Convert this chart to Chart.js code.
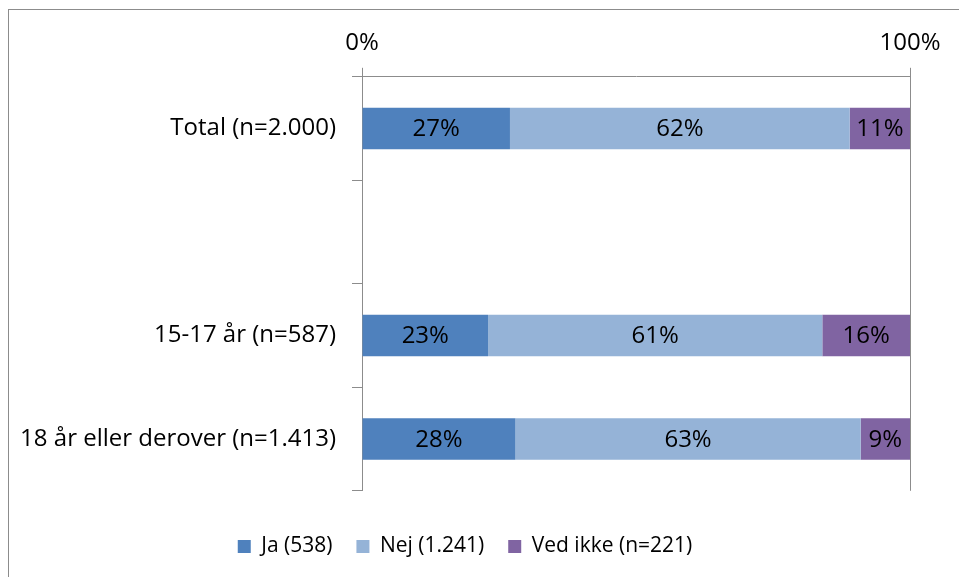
<!DOCTYPE html>
<html>
<head>
<meta charset="utf-8">
<script src="https://cdn.jsdelivr.net/npm/chart.js@4"></script>
<style>
  html, body { margin: 0; padding: 0; background: #fff; overflow: hidden; }
  #frame {
    position: absolute; left: 8px; top: 9px; width: 1000px; height: 620px;
    border: 1px solid #8c8c8c; box-sizing: border-box;
  }
  #wrap { position: absolute; left: 0; top: 0; width: 959px; height: 577px; }
</style>
</head>
<body>
<div id="frame"></div>
<div id="wrap"><canvas id="chart" width="959" height="577"></canvas></div>
<script>
document.addEventListener("DOMContentLoaded", function () {
  // categories (the blank one is the empty gap between Total and the age groups)
  const categories = ["Total (n=2.000)", "", "15-17 år (n=587)", "18 år eller derover (n=1.413)"];
  const seriesNames = ["Ja (538)", "Nej (1.241)", "Ved ikke (n=221)"];
  const jaValues = [27, null, 23, 28];
  const nejValues = [62, null, 61, 63];
  const vedIkkeValues = [11, null, 16, 9];
  const xTicks = [0, 100];

  const colors = ["#4f81bd", "#95b3d7", "#8064a2"];
  const axisGray = "#8c8c8c";
  const FONT = "'Open Sans', 'Noto Sans', sans-serif";
  const FS = 24;

  // draw the % labels in the middle of every segment
  const segmentLabels = {
    id: "segmentLabels",
    afterDatasetsDraw(chart) {
      const ctx = chart.ctx;
      ctx.save();
      ctx.font = FS + "px " + FONT;
      ctx.fillStyle = "#000";
      ctx.textAlign = "center";
      ctx.textBaseline = "middle";
      chart.data.datasets.forEach((ds, i) => {
        chart.getDatasetMeta(i).data.forEach((bar, j) => {
          if (ds.data[j] == null) return;
          const p = bar.getCenterPoint();
          ctx.fillText(ds.data[j] + "%", p.x, p.y + 1);
        });
      });
      ctx.restore();
    }
  };

  const ctx = document.getElementById("chart").getContext("2d");
  new Chart(ctx, {
    type: "bar",
    data: {
      labels: categories,
      datasets: [
        { label: seriesNames[0], data: jaValues, backgroundColor: colors[0] },
        { label: seriesNames[1], data: nejValues, backgroundColor: colors[1] },
        { label: seriesNames[2], data: vedIkkeValues, backgroundColor: colors[2] }
      ]
    },
    options: {
      indexAxis: "y",
      responsive: false,
      animation: false,
      devicePixelRatio: 1,
      layout: { padding: { left: 20, right: 49, top: 19, bottom: 10 } },
      datasets: { bar: { barPercentage: 0.4, categoryPercentage: 1.0 } },
      plugins: {
        legend: {
          position: "bottom",
          title: { display: true, text: "", font: { size: 1 }, padding: { top: 0, bottom: 20 } },
          labels: {
            font: { family: FONT, size: 21 },
            color: "#000",
            boxWidth: 13,
            boxHeight: 13,
            padding: 24
          }
        },
        tooltip: { enabled: false }
      },
      scales: {
        x: {
          position: "top",
          stacked: true,
          min: 0,
          max: 100,
          afterBuildTicks: scale => { scale.ticks = xTicks.map(v => ({ value: v })); },
          ticks: {
            callback: v => v + "%",
            font: { family: FONT, size: FS },
            color: "#000",
            padding: 10
          },
          grid: { color: axisGray, tickColor: axisGray, tickLength: 9, lineWidth: 1 },
          border: { color: axisGray }
        },
        y: {
          stacked: true,
          afterFit: scale => { scale.width = 342; },
          ticks: {
            font: { family: FONT, size: FS },
            color: "#000",
            padding: 16
          },
          grid: {
            offset: true,
            tickLength: 10,
            tickColor: axisGray,
            color: c => (c.index === categories.length ? axisGray : "rgba(0,0,0,0)")
          },
          border: { color: axisGray }
        }
      }
    },
    plugins: [segmentLabels]
  });
});
</script>
</body>
</html>
